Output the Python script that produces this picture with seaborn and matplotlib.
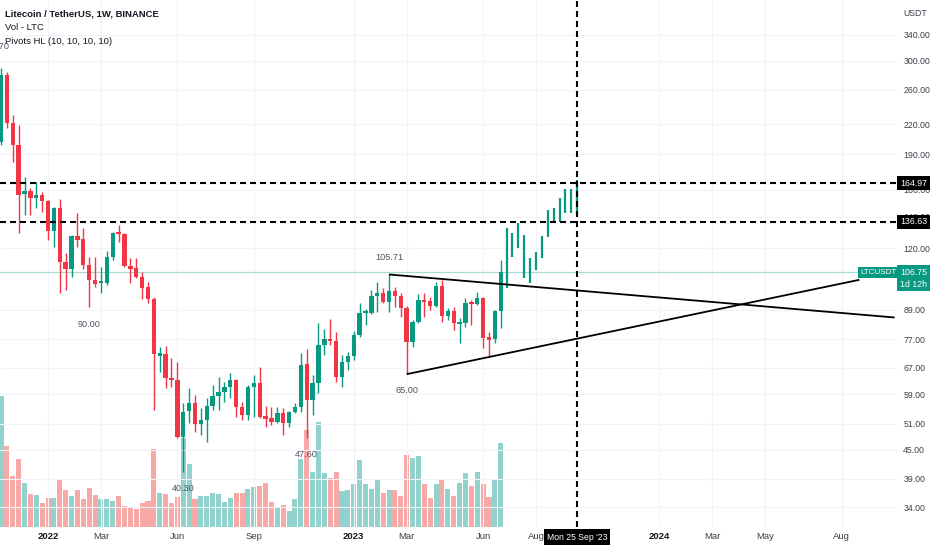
import matplotlib
matplotlib.use('Agg')
import numpy as np
import pandas as pd
import matplotlib.pyplot as plt
import matplotlib.transforms as mtrans
from matplotlib import font_manager
from matplotlib.ticker import NullLocator, NullFormatter
import seaborn as sns

sns.set_style('white')
_names = {f.name for f in font_manager.fontManager.ttflist}
_font = 'Liberation Sans Narrow' if 'Liberation Sans Narrow' in _names else 'Liberation Sans'
plt.rcParams['font.family'] = [_font, 'DejaVu Sans']

GREEN = '#089981'
RED = '#f23645'
VOL_GREEN = '#92d2cc'
VOL_RED = '#f7a9a7'
TXT = '#131722'

# weekly LTCUSDT candles, first week 2021-11-08
start = pd.Timestamp('2021-11-08')
opens = [201.8, 279.8, 221.3, 198.9, 156.6, 158.9, 153.5, 155.8, 151.4, 130.8,
         146.2, 112.4, 108.6, 127.6, 125.7, 110.8, 103.0, 101.5, 101.5, 115.2,
         130.2, 128.9, 110.3, 109.1, 104.5, 99.5, 93.9, 71.1, 71.7, 63.8,
         63.2, 47.9, 54.3, 56.6, 51.0, 52.0, 55.7, 58.5, 59.6, 61.1,
         63.2, 55.5, 53.3, 61.1, 62.3, 52.8, 52.5, 51.5, 53.8, 51.3,
         54.1, 55.5, 68.4, 57.4, 62.3, 75.0, 77.2, 76.5, 64.2, 69.0,
         71.1, 78.7, 87.7, 87.7, 95.2, 96.6, 92.5, 97.6, 95.2, 89.8,
         76.1, 83.9, 93.4, 92.9, 90.7, 100.0, 86.4, 88.5, 83.4, 83.5,
         92.0, 91.6, 94.3, 77.6, 77.2, 88.5]
highs = [289.5, 284.0, 230.2, 219.2, 170.1, 161.2, 166.1, 158.2, 152.1, 146.9,
         152.8, 117.4, 128.2, 142.7, 132.7, 115.2, 115.2, 109.7, 118.6, 130.2,
         134.6, 129.5, 114.6, 114.6, 107.1, 102.0, 94.8, 74.3, 74.6, 70.4,
         69.0, 56.6, 60.8, 58.8, 55.1, 57.9, 61.7, 64.2, 62.6, 65.4,
         63.5, 56.8, 61.7, 64.8, 67.3, 55.7, 55.5, 55.5, 55.1, 54.3,
         56.6, 72.1, 73.6, 64.8, 83.5, 81.1, 85.1, 79.9, 71.4, 72.5,
         80.3, 92.0, 89.3, 98.1, 102.0, 99.0, 105.71, 99.5, 96.6, 90.5,
         84.7, 96.2, 96.6, 94.8, 102.0, 103.0, 89.8, 90.2, 85.5, 94.3,
         93.4, 97.1, 94.8, 79.9, 88.9, 113.5]
lows = [198.9, 216.0, 183.0, 129.5, 141.3, 141.3, 146.2, 143.2, 125.1, 120.9,
        96.7, 98.1, 104.5, 120.9, 108.6, 90.0, 99.5, 96.7, 100.5, 113.5,
        123.9, 109.7, 101.5, 104.0, 93.9, 92.0, 54.6, 65.6, 60.8, 61.1,
        47.5, 40.3, 51.3, 49.1, 48.2, 46.6, 54.6, 54.6, 56.8, 58.0,
        52.8, 52.0, 52.0, 52.8, 52.5, 50.3, 50.8, 51.3, 48.4, 50.3,
        53.8, 54.1, 47.6, 53.3, 59.4, 71.4, 75.0, 62.6, 61.1, 66.4,
        69.7, 77.9, 82.7, 87.2, 88.1, 92.0, 88.1, 90.2, 85.9, 65.0,
        74.3, 83.5, 86.0, 88.9, 90.2, 83.9, 84.7, 80.7, 75.7, 81.9,
        82.7, 91.1, 73.9, 70.7, 75.7, 81.5]
closes = [279.8, 221.3, 198.9, 155.8, 158.9, 153.5, 155.8, 151.4, 130.8, 146.2,
          112.4, 108.6, 127.6, 125.1, 110.8, 103.0, 101.0, 102.0, 115.2, 129.5,
          128.9, 110.3, 108.6, 104.5, 99.0, 93.9, 71.7, 72.1, 63.8, 63.2,
          47.9, 54.1, 56.6, 51.0, 52.0, 55.7, 58.5, 59.6, 61.1, 63.2,
          55.5, 53.3, 61.1, 62.3, 52.8, 52.5, 51.5, 53.8, 51.3, 54.1,
          55.5, 68.0, 57.4, 62.3, 75.0, 77.2, 76.5, 64.2, 69.0, 71.1,
          78.7, 87.7, 88.1, 95.2, 96.6, 92.5, 97.6, 95.2, 89.8, 76.1,
          83.9, 93.4, 92.5, 90.7, 100.0, 86.4, 88.5, 83.5, 83.6, 92.0,
          91.6, 94.3, 77.6, 77.2, 88.5, 106.75]
# volume, million LTC
volumes = [19.7, 12.2, 7.7, 10.2, 6.6, 5.0, 4.8, 3.6, 4.4, 4.4,
           7.1, 5.6, 4.7, 5.6, 4.2, 5.9, 4.8, 4.2, 4.2, 3.9,
           4.7, 3.2, 3.0, 2.7, 3.6, 3.9, 11.7, 5.1, 5.0, 3.6,
           4.5, 13.4, 9.5, 4.2, 4.7, 4.7, 5.1, 5.0, 3.8, 4.4,
           5.1, 5.1, 5.7, 6.0, 6.2, 6.6, 3.8, 3.0, 3.3, 2.4,
           4.2, 10.2, 14.6, 8.3, 15.8, 8.1, 7.4, 8.3, 5.4, 5.6,
           6.5, 10.1, 6.5, 5.7, 7.2, 5.1, 5.6, 5.6, 4.7, 10.8,
           10.4, 10.7, 6.5, 4.4, 6.5, 7.1, 5.7, 4.7, 6.6, 8.1,
           6.2, 8.3, 6.5, 4.5, 7.1, 12.6]

# projected bars pattern (high / low)
proj_start = '2023-07-03'
proj_highs = [132.7, 129.5, 135.9, 128.2, 114.6, 118.0, 127.6, 144.8, 146.2, 153.5, 160.5, 160.5, 167.7]
proj_lows = [99.0, 115.2, 120.4, 104.0, 101.5, 108.1, 114.6, 127.0, 136.6, 136.6, 142.7, 142.7, 141.3]

pivot_dates = ['2021-11-01', '2022-02-21', '2022-06-13', '2022-11-07', '2023-02-13', '2023-03-06']
pivot_values = [296.70, 90.00, 40.30, 47.60, 105.71, 65.00]
pivot_kinds = ['H', 'L', 'L', 'L', 'H', 'L']

upper_trend = [('2023-02-13', 105.71), ('2024-10-07', 85.7)]
lower_trend = [('2023-03-06', 65.00), ('2024-08-26', 103.0)]
levels = [164.97, 136.63]
last_price = 106.75
marker_date = '2023-09-25'

price_ticks = [34, 39, 45, 51, 59, 67, 77, 89, 120, 140, 160, 190, 220, 260, 300, 340]
time_ticks = ['2022-01-03', '2022-03-07', '2022-06-06', '2022-09-05', '2023-01-02', '2023-03-06',
              '2023-06-05', '2023-08-07', '2024-01-01', '2024-03-04', '2024-05-06', '2024-08-05']
time_labels = ['2022', 'Mar', 'Jun', 'Sep', '2023', 'Mar', 'Jun', 'Aug', '2024', 'Mar', 'May', 'Aug']


def wk(d):
    return (pd.Timestamp(d) - start).days / 7


n = len(opens)
xs = np.arange(n)
df = pd.DataFrame({'x': xs, 'open': opens, 'high': highs, 'low': lows,
                   'close': closes, 'volume': volumes})
df['dir'] = np.where(df['close'] >= df['open'], 'up', 'down')

W, H = 932, 550
fig = plt.figure(figsize=(W / 100, H / 100), dpi=100)
ax = fig.add_axes([0, 23 / H, 897 / W, 527 / H])
vax = ax.twinx()
ax.set_zorder(vax.get_zorder() + 1)
ax.patch.set_visible(False)

# volume
sns.barplot(data=df, x='x', y='volume', hue='dir', palette={'up': VOL_GREEN, 'down': VOL_RED},
            native_scale=True, dodge=False, width=0.86, saturation=1, errorbar=None,
            legend=False, linewidth=0, ax=vax)
vax.set_ylim(0, 79.3)
vax.set_yticks([])
vax.set_ylabel('')
vax.set_xlabel('')

# candles
ax.set_yscale('log')
colors = np.where(df['dir'] == 'up', GREEN, RED)
top = np.maximum(df['open'], df['close'])
bot = np.minimum(df['open'], df['close'])
thin = top / bot < 1.006
top = np.where(thin, top * 1.003, top)
bot = np.where(thin, bot / 1.003, bot)
ax.vlines(xs, df['low'], df['high'], colors=colors, lw=1, zorder=3)
ax.bar(xs, top - bot, bottom=bot, width=0.74, color=colors, linewidth=0, zorder=4)

px = wk(proj_start) + np.arange(len(proj_highs))
ax.vlines(px, proj_lows, proj_highs, colors=GREEN, lw=1.6, zorder=4)

# lines
ax.axhline(last_price, color=GREEN, alpha=0.35, lw=0.9, zorder=2)
dash = (0, (2.9, 1.9))
for lv in levels:
    ax.axhline(lv, color='black', lw=1.5, ls=dash, zorder=5)
ax.axvline(wk(marker_date), color='black', lw=1.5, ls=dash, zorder=5)
for tr in (upper_trend, lower_trend):
    ax.plot([wk(d) for d, _ in tr], [v for _, v in tr], color='black', lw=1.3, zorder=5,
            solid_capstyle='butt')

# pivot labels
for d, v, k in zip(pivot_dates, pivot_values, pivot_kinds):
    ax.annotate(f'{v:.2f}', (wk(d), v), xytext=(0, 12 if k == 'H' else -12),
                textcoords='offset points', ha='center', va='center', fontsize=6.6,
                color='#50535e', annotation_clip=False, zorder=6)

# axes
ax.set_xlim(-0.17, 152.4)
ax.set_ylim(30.84, 403.3)
ax.yaxis.tick_right()
ax.yaxis.set_minor_locator(NullLocator())
ax.yaxis.set_minor_formatter(NullFormatter())
ax.set_yticks(price_ticks)
ax.set_yticklabels([f'{t:.2f}' for t in price_ticks])
ax.set_xticks([wk(d) for d in time_ticks])
ax.set_xticklabels(time_labels)
ax.tick_params(axis='y', length=0, pad=4.5, labelsize=6.3, labelcolor='#3b3f4a')
ax.tick_params(axis='x', length=0, pad=3.5, labelsize=6.8, labelcolor='#3b3f4a')
for lab in ax.get_xticklabels():
    if lab.get_text().isdigit():
        lab.set_fontweight('bold')
        lab.set_color(TXT)
ax.grid(True, color='#f0f3fa', lw=0.8)
ax.set_axisbelow(True)
for a in (ax, vax):
    for s in a.spines.values():
        s.set_visible(False)

# price scale labels
ty = mtrans.blended_transform_factory(fig.transFigure, ax.transData)
for lv in levels:
    ax.text(900 / W, lv, f'{lv:.2f}', transform=ty, ha='left', va='center', fontsize=6.3,
            color='white', zorder=10, clip_on=False,
            bbox=dict(boxstyle='square,pad=0.3', fc='black', ec='none'))
ax.text(860 / W, last_price, 'LTCUSDT', transform=ty, ha='left', va='center', fontsize=5.8,
        color='white', zorder=10, clip_on=False,
        bbox=dict(boxstyle='square,pad=0.3', fc=GREEN, ec='none'))
ax.text(900 / W, last_price, f'{last_price:.2f}', transform=ty, ha='left', va='center',
        fontsize=6.3, color='white', zorder=10, clip_on=False,
        bbox=dict(boxstyle='square,pad=0.3', fc=GREEN, ec='none'))
ax.annotate('1d 12h', (900 / W, last_price), xycoords=ty, xytext=(0, -8.5),
            textcoords='offset points', ha='left', va='center', fontsize=6.3, color='white',
            zorder=10, annotation_clip=False,
            bbox=dict(boxstyle='square,pad=0.3', fc=GREEN, ec='none'))

tx = mtrans.blended_transform_factory(ax.transData, fig.transFigure)
ax.text(wk(marker_date), 1 - 537 / H, "Mon 25 Sep '23", transform=tx, ha='center', va='center',
        fontsize=6.2, color='white', zorder=10, clip_on=False,
        bbox=dict(boxstyle='square,pad=0.35', fc='black', ec='none'))

# legend texts
fig.text(5 / W, 1 - 14 / H, 'Litecoin / TetherUS, 1W, BINANCE', fontsize=6.8, fontweight='bold',
         color=TXT, va='center', ha='left')
fig.text(5 / W, 1 - 28 / H, 'Vol - LTC', fontsize=6.8, color=TXT, va='center', ha='left')
fig.text(5 / W, 1 - 42 / H, 'Pivots HL (10, 10, 10, 10)', fontsize=6.8, color=TXT,
         va='center', ha='left')
fig.text(903 / W, 1 - 13 / H, 'USDT', fontsize=6.3, color='#3b3f4a', va='center', ha='left')

fig.savefig('out.png', dpi=100)
